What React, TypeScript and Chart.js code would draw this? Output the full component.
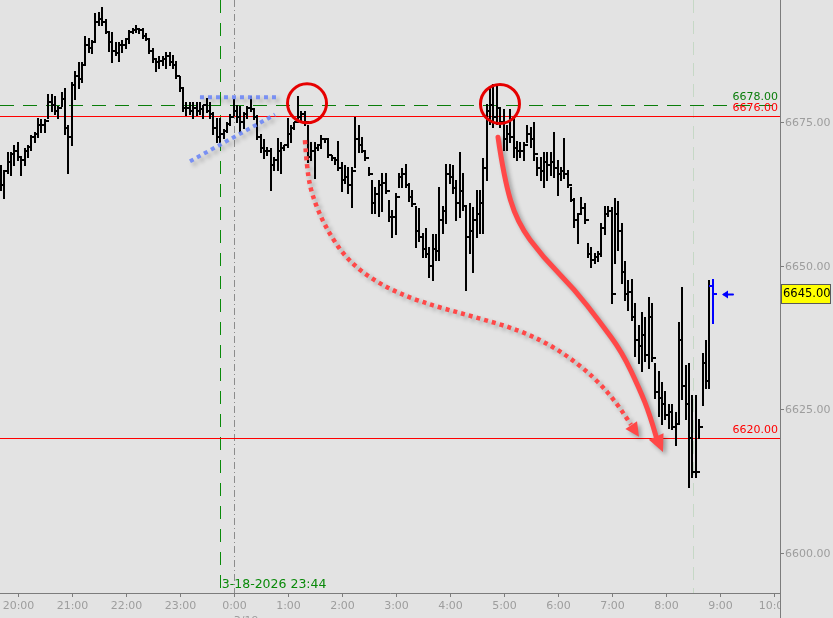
import React, { useEffect, useRef } from "react";
import { Chart, registerables } from "chart.js";

Chart.register(...registerables);

// ---- time layout (minutes after 20:00) ----
const FIRST_BAR_MIN = -19.25;
const BAR_MINUTES = 3.75;
const X_MIN = -20.3;
const X_MAX = 846.8;
const Y_MIN = 6593.0;
const Y_MAX = 6696.3;

// ---- price bars ----
const highs = [
  6667.5, 6666.75, 6669.75, 6669.75, 6671, 6671.5, 6669, 6670.5, 6671, 6672.75,
  6673.25, 6675.75, 6675.5, 6675.5, 6680, 6680, 6679.5, 6677.75, 6680.25, 6681,
  6674.5, 6682, 6684, 6685.5, 6685.5, 6690, 6689.75, 6689.25, 6694, 6694.25,
  6695, 6693, 6690.75, 6690.75, 6689, 6689, 6689.25, 6689.75, 6691, 6691.5,
  6692, 6691.5, 6691.5, 6690.5, 6689.25, 6688, 6686.25, 6686.5, 6686.5, 6687.25,
  6687.25, 6686.75, 6685.75, 6683, 6681, 6678.5, 6678.5, 6678.5, 6678.5, 6678.5,
  6678, 6679.25, 6678.5, 6676.75, 6675.75, 6675.75, 6673.75, 6675, 6676.5, 6679,
  6678, 6677.75, 6676.75, 6677.75, 6679.5, 6677.5, 6676.25, 6673, 6672, 6670.75,
  6670.5, 6669, 6672.25, 6671.5, 6671, 6675.75, 6674.5, 6675, 6679.5, 6677,
  6677, 6674.5, 6671.5, 6671.5, 6671, 6672.75, 6672.25, 6672.25, 6669.25, 6669,
  6671.75, 6668, 6667.5, 6667.25, 6667.25, 6676, 6674.5, 6672.5, 6670.25, 6667.25,
  6665, 6663.75, 6665, 6666.25, 6666.25, 6661.5, 6659.75, 6662.75, 6666.25, 6667,
  6667.75, 6664.5, 6663.25, 6660.5, 6660, 6655.75, 6656.5, 6653.25, 6655.5, 6655.5,
  6663.75, 6660.5, 6667.75, 6667.75, 6667.5, 6665, 6669.75, 6666.25, 6660.5, 6661,
  6660.25, 6663.25, 6663.25, 6668.75, 6678.25, 6681.25, 6681.75, 6681.5, 6677.25, 6677.25,
  6674.5, 6677.25, 6676, 6671.75, 6671.5, 6671.5, 6674.5, 6674.25, 6675, 6669,
  6669, 6669.75, 6669.75, 6669.75, 6673.25, 6668.5, 6667.25, 6672.25, 6666.75, 6663.75,
  6661.75, 6659.25, 6662, 6661, 6654, 6653.25, 6652.25, 6652.5, 6657.5, 6660.5,
  6660.5, 6660.25, 6661.75, 6661.25, 6657.5, 6650.75, 6647.5, 6647.75, 6643.5, 6639.75,
  6642, 6641, 6644.5, 6643.5, 6633, 6631.75, 6629.75, 6628.25, 6626, 6626,
  6624.5, 6640.25, 6646.25, 6632.75, 6633, 6627.5, 6627.5, 6623.25, 6634.75, 6637,
  6647.5, 6647.75,
];
const lows = [
  6663.25, 6661.75, 6666.25, 6665.75, 6667.5, 6668.5, 6665.75, 6667.5, 6669, 6670.25,
  6671.5, 6672.5, 6673.25, 6673.25, 6675.75, 6677, 6676.5, 6675.75, 6677.75, 6673,
  6666.25, 6671, 6679, 6681, 6682, 6685.25, 6687.25, 6687, 6689, 6692,
  6692, 6690.5, 6687.5, 6685.5, 6686.75, 6685.75, 6687.25, 6688, 6688.75, 6690.5,
  6690.75, 6690.5, 6689.75, 6689.25, 6687, 6685.5, 6684, 6684.5, 6685, 6684.5,
  6685, 6684.5, 6682.75, 6680.5, 6677, 6676.25, 6676.5, 6675.75, 6676.25, 6676.5,
  6675.75, 6676.75, 6675.75, 6673, 6671.5, 6671.5, 6672.25, 6673.25, 6674.5, 6676.25,
  6675, 6673.25, 6674, 6675.75, 6677, 6675.5, 6672, 6669.75, 6668.75, 6669.25,
  6663.25, 6666.75, 6666.75, 6666.25, 6670.25, 6670.75, 6671.5, 6673.75, 6675, 6675,
  6674.5, 6668, 6668.5, 6665.25, 6670.25, 6670.5, 6671.5, 6669, 6668.5, 6667.75,
  6666.75, 6663, 6664.5, 6662.75, 6660.25, 6667.25, 6669.75, 6669.75, 6668.5, 6665.75,
  6659.25, 6659.25, 6658.75, 6659.5, 6662.75, 6657.75, 6655, 6655.5, 6663.75, 6663.75,
  6663.75, 6661.25, 6660.5, 6653.25, 6654.25, 6651.5, 6651.5, 6648, 6647.5, 6651,
  6651, 6655.75, 6657.5, 6664.5, 6662.75, 6658, 6658.5, 6659.75, 6645.75, 6652.25,
  6649, 6655, 6655.75, 6655.75, 6665, 6674.75, 6674.25, 6674.75, 6674.25, 6670.25,
  6670.25, 6671.5, 6669, 6668.5, 6669, 6668.5, 6671.5, 6670.75, 6668.5, 6665.75,
  6665, 6663.75, 6665, 6665.75, 6665.5, 6662.25, 6665, 6665.25, 6663.75, 6661.25,
  6656.75, 6654, 6659.25, 6657.5, 6651.5, 6649.75, 6650.5, 6650.75, 6651.75, 6655.5,
  6658.75, 6643.5, 6650.5, 6652.75, 6647, 6644, 6642.25, 6640.5, 6634.25, 6633,
  6631.75, 6633.5, 6632.25, 6633.5, 6627, 6623.75, 6622.5, 6623.25, 6621.75, 6621.5,
  6618.75, 6622.5, 6626.75, 6623.25, 6611.5, 6613.25, 6613.25, 6620, 6625.75, 6628.75,
  6628.75, 6640,
];
const closes = [
  6664, 6666.5, 6668, 6669.5, 6670, 6669, 6668.5, 6670, 6670.75, 6672.5,
  6673, 6674.5, 6674.5, 6675.25, 6678.5, 6678, 6677, 6677.5, 6679, 6674,
  6672.5, 6681.5, 6683, 6682.5, 6685, 6688.5, 6688, 6689, 6692.5, 6693,
  6692.5, 6690.75, 6689, 6687.5, 6687, 6688.5, 6688.5, 6689.5, 6690.75, 6691,
  6691.25, 6691, 6690, 6689.5, 6687.5, 6686, 6685.5, 6685.75, 6686, 6686.5,
  6685.5, 6685, 6683, 6681, 6677.5, 6677.5, 6677, 6677.5, 6677, 6677.25,
  6678, 6677, 6676.5, 6674, 6672.5, 6673, 6673.5, 6674.75, 6676, 6677,
  6676, 6675, 6676.5, 6677.5, 6677.25, 6676, 6672.5, 6670.5, 6670, 6670,
  6667.5, 6668.5, 6670, 6670.5, 6671, 6673, 6674, 6675, 6676, 6676.5,
  6675, 6669, 6670, 6670.5, 6671, 6672, 6672, 6669.25, 6668.75, 6668.5,
  6667, 6665, 6665.5, 6664, 6666.5, 6672, 6671, 6670, 6668.75, 6666,
  6661, 6662.5, 6664, 6664.5, 6663, 6658.5, 6658.5, 6662, 6665.5, 6666,
  6664, 6662, 6660.75, 6656, 6655, 6653, 6652, 6650, 6653, 6652.5,
  6658, 6659.5, 6666, 6665.5, 6663.5, 6661, 6663, 6660.5, 6655, 6656,
  6658, 6659, 6661, 6667, 6677, 6678, 6676, 6677.5, 6675, 6672,
  6673, 6672.5, 6670.5, 6670, 6670, 6671, 6673, 6672, 6669.5, 6667,
  6666.5, 6668, 6667.5, 6668, 6667, 6666, 6666.5, 6666, 6664, 6661.5,
  6658, 6659, 6660, 6658, 6652, 6651, 6651.5, 6652, 6656.5, 6659,
  6659.5, 6645, 6659, 6656, 6649, 6645, 6645.5, 6641, 6637, 6636,
  6638, 6634.5, 6641, 6634, 6628, 6627, 6626, 6624, 6624.5, 6622,
  6622.5, 6637, 6629, 6626, 6620, 6614, 6614, 6622, 6633, 6630,
  6646.5, 6645,
];

// ---- axes ----
const xTickMinutes = [0, 60, 120, 180, 240, 300, 360, 420, 480, 540, 600, 660, 720, 780, 840];
const xTickLabels = ["20:00", "21:00", "22:00", "23:00", "0:00", "1:00", "2:00", "3:00", "4:00", "5:00", "6:00", "7:00", "8:00", "9:00", "10:00"];
const yTickValues = [6600, 6625, 6650, 6675];

// ---- levels and markers ----
const levelPrices = [6678, 6676, 6620];
const levelLabels = ["6678.00", "6676.00", "6620.00"];
const levelColors = ["#0a7d0a", "#ff0000", "#ff0000"];
const levelDashed = [true, false, false];
const LAST_PRICE = 6645;
const LAST_LABEL = "6645.00";
const ENTRY_MINUTE = 224; // 23:44
const ENTRY_LABEL = "3-18-2026 23:44";
const SESSION_MINUTE = 240; // 0:00
const SESSION_DATE = "3/19";
const OPEN_MINUTE = 750; // 8:30

// ---- drawn annotations (minute, price) ----
const circleCenters = [[321, 6678.3], [535.5, 6678.2]];
const blueFlatLine = [[202, 6679.35], [286.5, 6679.35]];
const blueTrendLine = [[190.9, 6668.2], [285.4, 6676.35]];
const dottedArrowPath = [
  [318.7, 6671.9], [321.0, 6666.7], [326.5, 6662.3], [341.0, 6656.8], [365.4, 6651.0],
  [402.1, 6646.7], [446.6, 6643.7], [502.2, 6641.3], [557.7, 6638.8], [602.2, 6635.3],
  [641.1, 6630.5], [668.9, 6625.4], [681.1, 6622.3], [690.0, 6620.2],
];
const solidArrowPath = [
  [533.3, 6672.4], [539.9, 6665.3], [554.4, 6657.6], [583.3, 6651.5], [618.9, 6645.8],
  [646.7, 6640.2], [671.1, 6635.0], [691.1, 6628.4], [702.2, 6624.0], [708.9, 6620.35],
  [716.7, 6617.55],
];

const BG = "#e3e3e3";
const AXIS_TEXT = "#9d9d9d";
const FONT = '"DejaVu Sans", Verdana, sans-serif';

function smoothPath(ctx: CanvasRenderingContext2D, pts: number[][]) {
  ctx.beginPath();
  ctx.moveTo(pts[0][0], pts[0][1]);
  const n = pts.length;
  for (let i = 1; i < n - 2; i++) {
    const mx = (pts[i][0] + pts[i + 1][0]) / 2;
    const my = (pts[i][1] + pts[i + 1][1]) / 2;
    ctx.quadraticCurveTo(pts[i][0], pts[i][1], mx, my);
  }
  if (n > 2) ctx.quadraticCurveTo(pts[n - 2][0], pts[n - 2][1], pts[n - 1][0], pts[n - 1][1]);
  else ctx.lineTo(pts[n - 1][0], pts[n - 1][1]);
}

function arrowHead(ctx: CanvasRenderingContext2D, base: number[], tip: number[], len: number, half: number) {
  const dx = tip[0] - base[0];
  const dy = tip[1] - base[1];
  const d = Math.hypot(dx, dy) || 1;
  const ux = dx / d, uy = dy / d;
  const bx = tip[0] - ux * len, by = tip[1] - uy * len;
  ctx.beginPath();
  ctx.moveTo(tip[0], tip[1]);
  ctx.lineTo(bx - uy * half, by + ux * half);
  ctx.lineTo(bx + uy * half, by - ux * half);
  ctx.closePath();
  ctx.fill();
}

const overlayPlugin = {
  id: "overlay",
  beforeDraw(chart: any) {
    const { ctx, width, height } = chart;
    ctx.save();
    ctx.fillStyle = BG;
    ctx.fillRect(0, 0, width, height);
    ctx.restore();
  },
  beforeDatasetsDraw(chart: any) {
    const { ctx, chartArea: a, scales } = chart;
    const xs = scales.x, ys = scales.y;
    const vx = (m: number) => Math.round(xs.getPixelForValue(m)) + 0.5;
    const hy = (p: number) => Math.floor(ys.getPixelForValue(p)) + 0.5;
    ctx.save();
    ctx.lineWidth = 1;
    ctx.strokeStyle = "#c6d8c6";
    ctx.setLineDash([13, 8]);
    ctx.beginPath(); ctx.moveTo(vx(OPEN_MINUTE), a.top); ctx.lineTo(vx(OPEN_MINUTE), a.bottom); ctx.stroke();
    ctx.strokeStyle = "#8c8c8c";
    ctx.setLineDash([7, 3, 1, 3]);
    ctx.beginPath(); ctx.moveTo(vx(SESSION_MINUTE), a.top); ctx.lineTo(vx(SESSION_MINUTE), a.bottom); ctx.stroke();
    ctx.strokeStyle = "#0a8a0a";
    ctx.setLineDash([13, 10]);
    ctx.beginPath(); ctx.moveTo(vx(ENTRY_MINUTE), a.top); ctx.lineTo(vx(ENTRY_MINUTE), a.bottom); ctx.stroke();
    levelPrices.forEach((p, i) => {
      ctx.strokeStyle = levelColors[i];
      ctx.setLineDash(levelDashed[i] ? [14, 9] : []);
      ctx.beginPath(); ctx.moveTo(a.left, hy(p)); ctx.lineTo(a.right, hy(p)); ctx.stroke();
    });
    ctx.restore();
  },
  afterDatasetsDraw(chart: any) {
    const { ctx, chartArea: a, scales, height } = chart;
    const xs = scales.x, ys = scales.y;
    const P = (pt: number[]) => [xs.getPixelForValue(pt[0]), ys.getPixelForValue(pt[1])];
    ctx.save();
    ctx.beginPath(); ctx.rect(a.left, a.top, a.right - a.left, a.bottom - a.top); ctx.clip();

    // crisp OHLC bars from the bar elements' geometry
    const meta = chart.getDatasetMeta(0);
    meta.data.forEach((el: any, i: number) => {
      const x = Math.round(el.x);
      const top = Math.round(el.y);
      const bot = Math.round(el.base);
      const open = i > 0 ? closes[i - 1] : closes[0];
      ctx.fillStyle = i === closes.length - 1 ? "#0000ff" : "#000000";
      ctx.fillRect(x - 1, Math.min(top, bot), 2, Math.abs(bot - top) + 1);
      ctx.fillRect(x - 4, Math.round(ys.getPixelForValue(open)) - 1, 3, 2);
      ctx.fillRect(x + 1, Math.round(ys.getPixelForValue(closes[i])) - 1, 3, 2);
    });

    // level labels
    ctx.font = "11px " + FONT;
    ctx.textAlign = "right";
    ctx.textBaseline = "alphabetic";
    levelPrices.forEach((p, i) => {
      const y = ys.getPixelForValue(p);
      ctx.fillStyle = levelColors[i];
      ctx.fillText(levelLabels[i], a.right - 2, y - 5.5);
    });
    ctx.font = "12.5px " + FONT;
    ctx.textAlign = "left";
    ctx.fillStyle = "#0a8a0a";
    ctx.fillText(ENTRY_LABEL, xs.getPixelForValue(ENTRY_MINUTE) + 2, a.bottom - 5);

    // shadowed drawings
    ctx.shadowColor = "rgba(0,0,0,0.30)";
    ctx.shadowBlur = 4;
    ctx.shadowOffsetX = 3;
    ctx.shadowOffsetY = 3;

    ctx.strokeStyle = "rgba(110,135,245,0.9)";
    ctx.lineWidth = 4;
    ctx.lineCap = "butt";
    ctx.setLineDash([4, 4]);
    [blueFlatLine, blueTrendLine].forEach((ln) => {
      const p0 = P(ln[0]), p1 = P(ln[1]);
      ctx.beginPath(); ctx.moveTo(p0[0], p0[1]); ctx.lineTo(p1[0], p1[1]); ctx.stroke();
    });

    const dPts = dottedArrowPath.map(P);
    ctx.strokeStyle = "#ff4848";
    ctx.fillStyle = "#ff4848";
    ctx.lineWidth = 4.5;
    ctx.setLineDash([4, 4]);
    smoothPath(ctx, dPts.slice(0, dPts.length - 1));
    ctx.stroke();
    ctx.setLineDash([]);
    arrowHead(ctx, dPts[dPts.length - 2], dPts[dPts.length - 1], 14, 7);

    const sPts = solidArrowPath.map(P);
    ctx.lineWidth = 5;
    ctx.lineCap = "round";
    smoothPath(ctx, sPts.slice(0, sPts.length - 1));
    ctx.stroke();
    arrowHead(ctx, sPts[sPts.length - 2], sPts[sPts.length - 1], 17, 8);

    ctx.shadowColor = "transparent";
    ctx.shadowBlur = 0;
    ctx.shadowOffsetX = 0;
    ctx.shadowOffsetY = 0;

    ctx.strokeStyle = "#e60000";
    ctx.lineWidth = 3;
    circleCenters.forEach((c) => {
      const p = P(c);
      ctx.beginPath(); ctx.arc(p[0], p[1], 19.5, 0, Math.PI * 2); ctx.stroke();
    });

    const ay = Math.round(ys.getPixelForValue(LAST_PRICE)) + 0.5;
    ctx.strokeStyle = "#0000ff";
    ctx.fillStyle = "#0000ff";
    ctx.lineWidth = 2;
    ctx.beginPath(); ctx.moveTo(a.right - 47, ay); ctx.lineTo(a.right - 56, ay); ctx.stroke();
    ctx.beginPath();
    ctx.moveTo(a.right - 58, ay); ctx.lineTo(a.right - 52, ay - 4); ctx.lineTo(a.right - 52, ay + 4); ctx.closePath(); ctx.fill();
    ctx.restore();

    // axes frame
    ctx.save();
    ctx.strokeStyle = "#7c7c7c";
    ctx.lineWidth = 1;
    ctx.beginPath();
    ctx.moveTo(a.right + 0.5, 0); ctx.lineTo(a.right + 0.5, height);
    ctx.moveTo(0, a.bottom + 0.5); ctx.lineTo(a.right + 1, a.bottom + 0.5);
    ctx.stroke();

    ctx.font = "11px " + FONT;
    ctx.fillStyle = AXIS_TEXT;
    ctx.textAlign = "left";
    ctx.textBaseline = "middle";
    yTickValues.forEach((v) => {
      const y = Math.round(ys.getPixelForValue(v)) + 0.5;
      ctx.beginPath(); ctx.moveTo(a.right, y); ctx.lineTo(a.right + 4, y); ctx.stroke();
      ctx.fillText(v.toFixed(2), a.right + 5, y + 0.5);
    });

    ctx.save();
    ctx.beginPath(); ctx.rect(0, a.bottom, a.right, height - a.bottom); ctx.clip();
    ctx.textAlign = "center";
    ctx.textBaseline = "alphabetic";
    xTickMinutes.forEach((m, i) => {
      const x = Math.round(xs.getPixelForValue(m)) + 0.5;
      ctx.beginPath(); ctx.moveTo(x, a.bottom); ctx.lineTo(x, a.bottom + 4); ctx.stroke();
      ctx.fillText(xTickLabels[i], x, a.bottom + 16);
    });
    ctx.fillText(SESSION_DATE, xs.getPixelForValue(SESSION_MINUTE) + 12, a.bottom + 31);
    ctx.restore();

    const by = ys.getPixelForValue(LAST_PRICE);
    ctx.fillStyle = "#ffff00";
    ctx.fillRect(a.right + 1, Math.round(by) - 9, 50, 19);
    ctx.strokeStyle = "#5a5a5a";
    ctx.strokeRect(a.right + 1.5, Math.round(by) - 9.5, 49, 19);
    ctx.fillStyle = "#000000";
    ctx.font = "11.5px " + FONT;
    ctx.textAlign = "left";
    ctx.textBaseline = "middle";
    ctx.fillText(LAST_LABEL, a.right + 3, Math.round(by) + 0.5);
    ctx.restore();
  },
};

export default function App() {
  const canvasRef = useRef<HTMLCanvasElement | null>(null);

  useEffect(() => {
    if (!canvasRef.current) return;
    const data = highs.map((h, i) => ({ x: FIRST_BAR_MIN + i * BAR_MINUTES, y: [lows[i], h] }));
    const chart = new Chart(canvasRef.current, {
      type: "bar",
      data: {
        datasets: [
          {
            data: data as any,
            backgroundColor: "rgba(0,0,0,0)",
            borderWidth: 0,
            barThickness: 2,
            inflateAmount: 0,
          } as any,
        ],
      },
      options: {
        animation: false,
        responsive: false,
        maintainAspectRatio: false,
        devicePixelRatio: 1,
        events: [],
        layout: { padding: { left: 0, top: 0, right: 53, bottom: 25 } },
        plugins: { legend: { display: false }, tooltip: { enabled: false } },
        scales: {
          x: { type: "linear", min: X_MIN, max: X_MAX, offset: false, display: false },
          y: { type: "linear", min: Y_MIN, max: Y_MAX, display: false },
        },
      },
      plugins: [overlayPlugin as any],
    });
    return () => chart.destroy();
  }, []);

  return (
    <div style={{ position: "absolute", left: 0, top: 0, width: 833, height: 618 }}>
      <canvas ref={canvasRef} width={833} height={618} style={{ display: "block" }} />
    </div>
  );
}
